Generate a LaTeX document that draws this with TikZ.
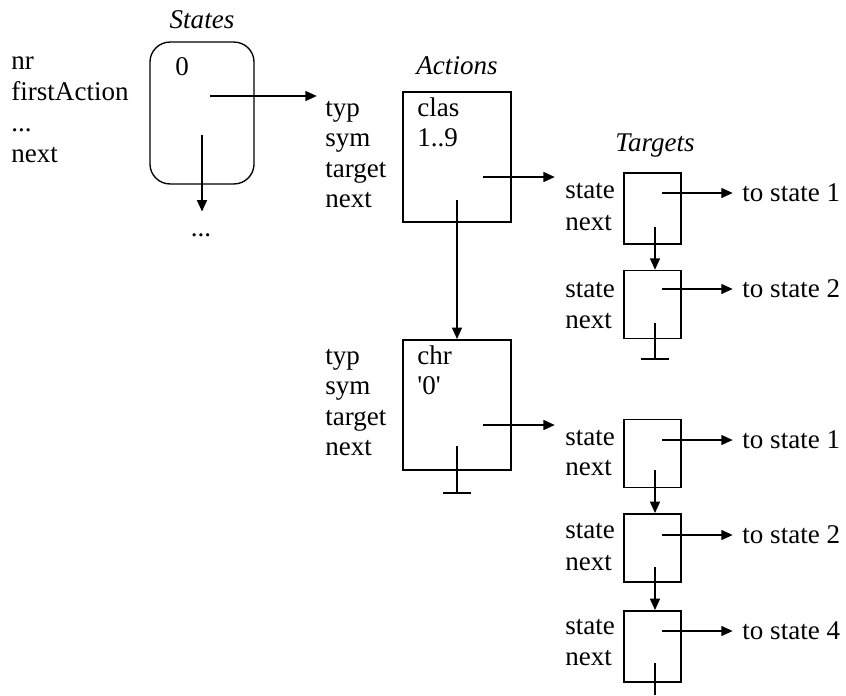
\documentclass[tikz,border=0pt]{standalone}
\usepackage{fontspec}
\setmainfont{Liberation Serif}
\usepackage{tikz}
\usetikzlibrary{arrows.meta, positioning}

\begin{document}
\begin{tikzpicture}[x=0.444pt, y=-0.444pt, >={Triangle[length=5.2pt, width=4.2pt]},
  every node/.style={font=\fontsize{12pt}{14pt}\selectfont},
  rec/.style={draw, line width=0.6pt},
  fld/.style={anchor=base west, inner sep=0pt},
  ttl/.style={anchor=base, inner sep=0pt, font=\fontsize{12pt}{14pt}\selectfont\itshape},
  tolab/.style={anchor=west, inner sep=0pt},
  ptr/.style={->, line width=1.25pt},
  gnd/.style={line width=0.55pt}]
  \useasboundingbox (0,0) rectangle (846,695);

  \node[rec, rounded corners=8.9pt, minimum width=46.2pt, minimum height=63pt] (sbox) at (202,113) {};
  \node[ttl] (stitle) at (202,28) {States};
  \node[fld] (szero) at (175,75) {0};
  \node[fld] (snr) at (11,69) {nr};
  \node[fld] (sfirst) at (11,100) {firstAction};
  \node[fld] (sdotsf) at (11,131) {...};
  \node[fld] (snext) at (11,162) {next};
  \node[anchor=base, inner sep=0pt] (sdots) at (201,236) {...};

  \node[rec, minimum width=48pt, minimum height=57.7pt] (abox1) at (457,157) {};
  \node[ttl] (atitle) at (457,74) {Actions};
  \node[fld] (a1typ) at (325,116) {typ};
  \node[fld] (a1sym) at (325,146.5) {sym};
  \node[fld] (a1tgt) at (325,177) {target};
  \node[fld] (a1nxt) at (325,207.5) {next};
  \node[fld] (a1val) at (417,116) {clas};
  \node[fld] (a1rng) at (417,146.5) {1..9};

  \node[rec, minimum width=48pt, minimum height=57.7pt] (abox2) at (457,405) {};
  \node[fld] (a2typ) at (325,364) {typ};
  \node[fld] (a2sym) at (325,394.5) {sym};
  \node[fld] (a2tgt) at (325,425) {target};
  \node[fld] (a2nxt) at (325,455.5) {next};
  \node[fld] (a2val) at (417,364) {chr};
  \node[fld] (a2rng) at (417,394.5) {\textquotesingle0\textquotesingle};

  \node[ttl] (ttitle) at (655,151) {Targets};
  \node[rec, minimum width=25.3pt, minimum height=31.5pt] (t1box) at (652.5,208.5) {};
  \node[fld] (t1st) at (565,198) {state};
  \node[fld] (t1nx) at (565,230) {next};
  \node[tolab] (t1to) at (742,193) {to state 1};
  \node[rec, minimum width=25.3pt, minimum height=30pt] (t2box) at (652.5,304.5) {};
  \node[fld] (t2st) at (565,297) {state};
  \node[fld] (t2nx) at (565,328) {next};
  \node[tolab] (t2to) at (742,289) {to state 2};

  \node[rec, minimum width=25.3pt, minimum height=30pt] (t3box) at (652.5,453.5) {};
  \node[fld] (t3st) at (565,445) {state};
  \node[fld] (t3nx) at (565,475) {next};
  \node[tolab] (t3to) at (742,440) {to state 1};
  \node[rec, minimum width=25.3pt, minimum height=30.2pt] (t4box) at (652.5,548) {};
  \node[fld] (t4st) at (565,538) {state};
  \node[fld] (t4nx) at (565,570) {next};
  \node[tolab] (t4to) at (742,535) {to state 2};
  \node[rec, minimum width=25.3pt, minimum height=31.5pt] (t5box) at (652.5,646.5) {};
  \node[fld] (t5st) at (565,634) {state};
  \node[fld] (t5nx) at (565,665) {next};
  \node[tolab] (t5to) at (742,631) {to state 4};

  \coordinate (sp) at (210,96);
  \coordinate (sn) at (202,135);
  \coordinate (a1p) at (483,177);
  \coordinate (a1n) at (457,200);
  \coordinate (a2p) at (483,425);
  \coordinate (a2n) at (457,446);
  \coordinate (t1p) at (662,193);
  \coordinate (t1n) at (655,227);
  \coordinate (t2p) at (662,289);
  \coordinate (t2n) at (655,323);
  \coordinate (t3p) at (662,440);
  \coordinate (t3n) at (655,470);
  \coordinate (t4p) at (662,535);
  \coordinate (t4n) at (655,567);
  \coordinate (t5p) at (662,631);
  \coordinate (t5n) at (655,663);

  \draw[ptr, shorten >=3.5pt] (sp) -- (sp -| a1typ.west);
  \draw[ptr, shorten >=9.3pt] (sn) -- (sn |- sdots.north);
  \draw[ptr, shorten >=4.4pt] (a1p) -- (a1p -| t1st.west);
  \draw[ptr] (a1n) -- (abox2.north);
  \draw[ptr, shorten >=4.4pt] (a2p) -- (a2p -| t3st.west);
  \draw[ptr, shorten >=4pt] (t1p) -- (t1to.west);
  \draw[ptr] (t1n) -- (t1n |- t2box.north);
  \draw[ptr, shorten >=4pt] (t2p) -- (t2to.west);
  \draw[ptr, shorten >=4pt] (t3p) -- (t3to.west);
  \draw[ptr] (t3n) -- (t3n |- t4box.north);
  \draw[ptr, shorten >=4pt] (t4p) -- (t4to.west);
  \draw[ptr] (t4n) -- (t4n |- t5box.north);
  \draw[ptr, shorten >=4pt] (t5p) -- (t5to.west);

  \draw[gnd] (a2n) -- (457,493) (443,493) -- (471,493);
  \draw[gnd] (t2n) -- (655,359) (641,359) -- (669,359);
  \draw[gnd] (t5n) -- (655,695);
\end{tikzpicture}
\end{document}
